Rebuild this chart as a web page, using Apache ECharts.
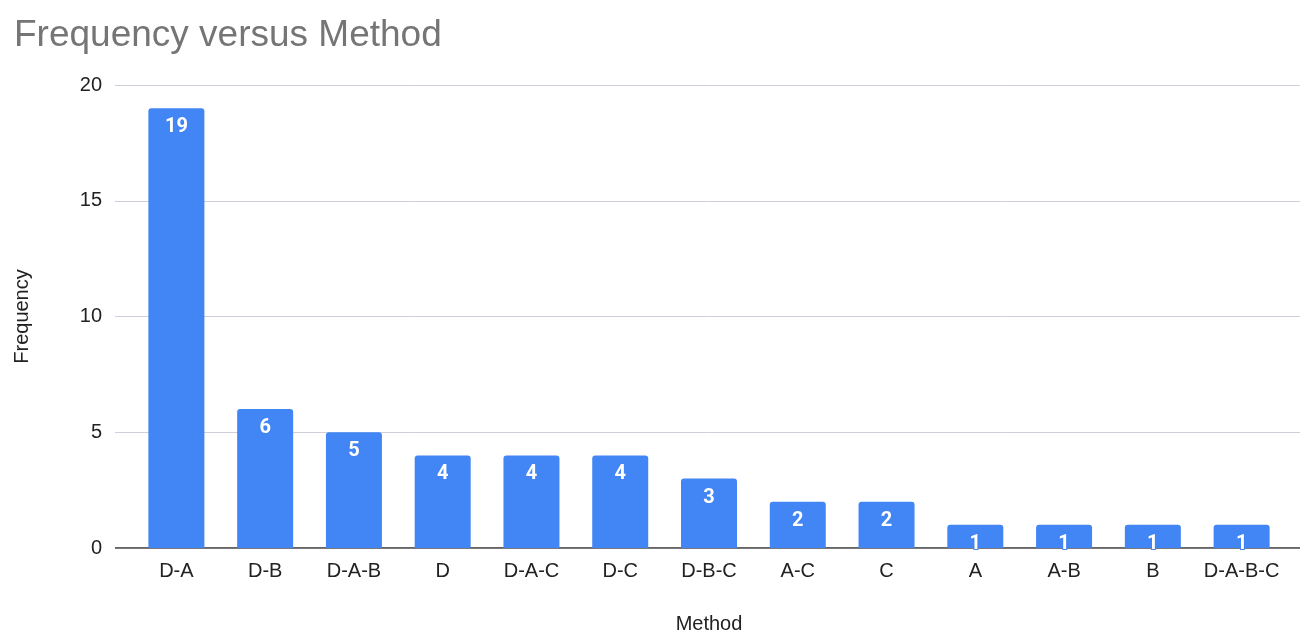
<!DOCTYPE html>
<html>
<head>
<meta charset="utf-8">
<script src="https://cdn.jsdelivr.net/npm/echarts@6/dist/echarts.min.js"></script>
<style>
  html, body { margin: 0; padding: 0; background: #fff; }
  #chart { width: 1304px; height: 635px; }
</style>
</head>
<body>
<div id="chart"></div>
<script>
// Frequency of each method
const methods = ['D-A', 'D-B', 'D-A-B', 'D', 'D-A-C', 'D-C', 'D-B-C', 'A-C', 'C', 'A', 'A-B', 'B', 'D-A-B-C'];
const frequencies = [19, 6, 5, 4, 4, 4, 3, 2, 2, 1, 1, 1, 1];
const yTicks = [0, 5, 10, 15, 20];

const font = '"Liberation Sans", Arial, Helvetica, sans-serif';
const chart = echarts.init(document.getElementById('chart'), null, { renderer: 'canvas' });

chart.setOption({
  animation: false,
  backgroundColor: '#ffffff',
  title: {
    text: 'Frequency versus Method',
    left: 9,
    top: 12,
    textStyle: { fontFamily: font, fontSize: 37, fontWeight: 'normal', color: '#757575' }
  },
  grid: [
    // full-width grid carrying the horizontal gridlines and value labels
    { left: 115, right: 4, top: 85, bottom: 87, containLabel: false, outerBoundsMode: 'none' },
    // inset grid holding the category bars
    { left: 132, right: 18, top: 85, bottom: 87, containLabel: false, outerBoundsMode: 'none' }
  ],
  xAxis: [
    { gridIndex: 0, type: 'value', min: 0, max: 1, show: false },
    {
      gridIndex: 1,
      type: 'category',
      data: methods,
      axisTick: { show: false },
      axisLine: { show: false },
      axisLabel: { color: '#222', fontSize: 20, fontFamily: font, margin: 13, interval: 0 },
      name: 'Method',
      nameLocation: 'middle',
      nameGap: 66,
      nameTextStyle: { color: '#222', fontSize: 20, fontFamily: font }
    }
  ],
  yAxis: [
    {
      gridIndex: 0,
      type: 'value',
      min: yTicks[0],
      max: yTicks[yTicks.length - 1],
      interval: 5,
      axisLine: { show: false },
      axisTick: { show: false },
      axisLabel: { color: '#222', fontSize: 20, fontFamily: font, margin: 13 },
      splitLine: { lineStyle: { color: '#cfcfdc', width: 1 } },
      name: 'Frequency',
      nameLocation: 'middle',
      nameGap: 83,
      nameRotate: 90,
      nameTextStyle: { color: '#222', fontSize: 20, fontFamily: font }
    },
    {
      gridIndex: 1,
      type: 'value',
      min: yTicks[0],
      max: yTicks[yTicks.length - 1],
      interval: 5,
      show: false,
      splitLine: { show: false }
    }
  ],
  series: [
    {
      // baseline across the full plot width
      type: 'line',
      xAxisIndex: 0,
      yAxisIndex: 0,
      data: [[0, 0], [1, 0]],
      symbol: 'none',
      silent: true,
      lineStyle: { color: '#333', width: 1.5 },
      z: 1
    },
    {
      type: 'bar',
      xAxisIndex: 1,
      yAxisIndex: 1,
      data: frequencies,
      barWidth: 56,
      itemStyle: { color: '#4285F4', borderRadius: [3, 3, 0, 0] },
      z: 3,
      label: {
        show: true,
        position: 'insideTop',
        distance: 9,
        color: '#ffffff',
        fontSize: 20,
        fontWeight: 'bold',
        fontFamily: 'Roboto, "Liberation Sans", sans-serif',
        textBorderColor: '#4285F4',
        textBorderWidth: 2
      }
    }
  ]
});
</script>
</body>
</html>
